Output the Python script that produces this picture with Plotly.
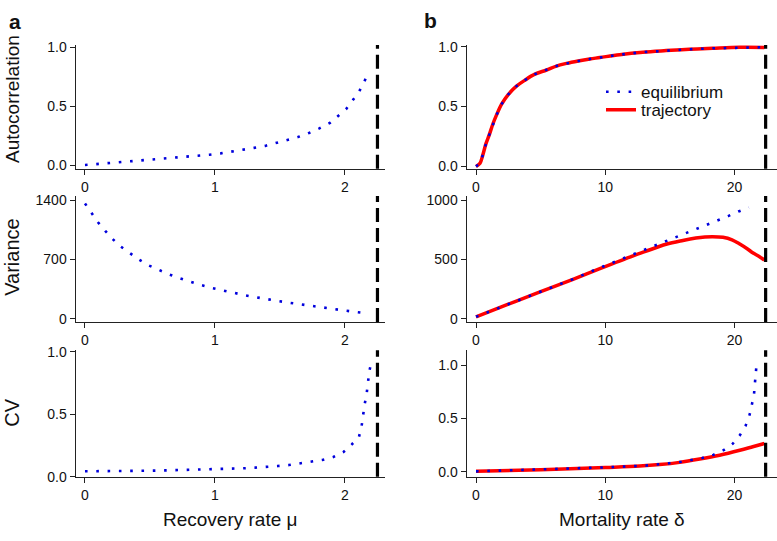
import plotly.graph_objects as go
from plotly.subplots import make_subplots

# ---- panel a : recovery rate mu ----
MU_CRIT = 2.25

a_acf_x = [0, 0.09, 0.18, 0.265, 0.355, 0.44, 0.526, 0.612, 0.70, 0.787, 0.874, 0.958, 1.044, 1.13,
           1.215, 1.3, 1.387, 1.47, 1.556, 1.638, 1.723, 1.803, 1.885, 1.944, 2.008, 2.059, 2.11, 2.149, 2.182]
a_acf_y = [0.0, 0.008, 0.014, 0.022, 0.03, 0.036, 0.047, 0.055, 0.064, 0.07, 0.078, 0.088, 0.099, 0.113,
           0.13, 0.146, 0.163, 0.188, 0.21, 0.238, 0.273, 0.312, 0.359, 0.414, 0.475, 0.55, 0.627, 0.71, 0.796]

a_var_x = [0, 0.05, 0.1, 0.156, 0.213, 0.272, 0.344, 0.415, 0.49, 0.569, 0.649, 0.73, 0.81, 0.897, 0.98,
           1.064, 1.149, 1.233, 1.318, 1.403, 1.49, 1.574, 1.66, 1.746, 1.83, 1.918, 2.003, 2.092, 2.18]
a_var_y = [1360, 1250, 1139, 1036, 940, 855, 775, 698, 629, 575, 522, 476, 433, 395, 361,
           330, 303, 276, 253, 228, 207, 188, 168, 148, 130, 112, 95, 78, 62]

a_cv_x = [0, 0.09, 0.179, 0.264, 0.354, 0.441, 0.526, 0.613, 0.7, 0.787, 0.874, 0.958, 1.049, 1.133,
          1.221, 1.308, 1.395, 1.482, 1.569, 1.654, 1.741, 1.826, 1.91, 1.987, 2.051, 2.108, 2.128,
          2.138, 2.151, 2.167, 2.174, 2.187, 2.205]
a_cv_y = [0.044, 0.044, 0.045, 0.046, 0.047, 0.048, 0.049, 0.051, 0.053, 0.055, 0.057, 0.06, 0.062, 0.065,
          0.068, 0.073, 0.078, 0.086, 0.094, 0.106, 0.12, 0.135, 0.158, 0.197, 0.257, 0.32, 0.405,
          0.494, 0.577, 0.665, 0.75, 0.842, 0.927]

# ---- panel b : mortality rate delta ----
DELTA_CRIT = 22.4

b_acf_x = [0, 0.31, 0.51, 0.77, 1.03, 1.29, 1.59, 1.98, 2.49, 3.13, 3.78, 4.55, 5.45, 6.22, 7.0, 7.9,
           8.8, 9.58, 11.1, 12.9, 14.7, 16.5, 18.3, 20.4, 22.2]
b_acf_eq = [0, 0.027, 0.089, 0.19, 0.265, 0.35, 0.43, 0.52, 0.60, 0.67, 0.72, 0.77, 0.805, 0.838, 0.86,
            0.88, 0.897, 0.909, 0.933, 0.954, 0.967, 0.978, 0.986, 0.994, 0.995]
b_acf_tr_x = b_acf_x[:-1] + [22.3]
b_acf_tr = b_acf_eq[:-1] + [0.993]

b_var_eq_x = [0, 2.5, 5, 7.5, 9.78, 10.6, 11.43, 12.2, 13.05, 13.85, 14.65, 15.47, 16.27, 17.07,
              17.86, 18.7, 19.5, 20.3, 21.1]
b_var_eq = [16, 122, 228, 334, 438, 474, 509, 542, 581, 616, 655, 688, 723, 758, 794, 830, 865, 904, 937]
b_var_tr_x = [0, 2.5, 5, 7.5, 9.58, 12.15, 13.05, 14.7, 16.0, 17.0, 17.7, 18.3, 19.1, 19.8, 20.4, 21.0,
              21.4, 21.9, 22.3]
b_var_tr = [16, 122, 228, 332, 422, 530, 565, 628, 660, 680, 689, 692, 686, 665, 630, 588, 556, 525, 495]

b_cv_eq_x = [0, 5, 10, 13.18, 14.08, 14.93, 15.8, 16.66, 17.5, 18.35, 19.18, 19.85, 20.4, 20.85, 21.16,
             21.34, 21.5, 21.57, 21.65, 21.72]
b_cv_eq = [0.006, 0.022, 0.043, 0.06, 0.069, 0.082, 0.094, 0.109, 0.13, 0.16, 0.206, 0.264, 0.342, 0.433,
           0.536, 0.633, 0.727, 0.83, 0.933, 1.036]
b_cv_tr_x = [0, 5, 10, 12.66, 14.2, 15.75, 17.3, 18.84, 20.4, 21.4, 22.3]
b_cv_tr = [0.006, 0.022, 0.042, 0.055, 0.069, 0.09, 0.121, 0.157, 0.203, 0.236, 0.266]

# ---- styles ----
FONT = "Liberation Sans, Arial, Helvetica, sans-serif"
BLUE = "#0000dd"
RED = "#ff0000"
dot_line = dict(color=BLUE, width=2.6, dash="2.6px,8.7px")
red_line = dict(color=RED, width=3.5)
crit_line = dict(color="black", width=3.2, dash="14px,6px")

W, H = 777, 541
fig = make_subplots(rows=3, cols=2)

# red trajectory under the blue dots
fig.add_trace(go.Scatter(x=b_acf_tr_x, y=b_acf_tr, mode="lines", line=red_line, line_shape="spline",
                         showlegend=False), row=1, col=2)
fig.add_trace(go.Scatter(x=b_var_tr_x, y=b_var_tr, mode="lines", line=red_line, line_shape="spline",
                         showlegend=False), row=2, col=2)
fig.add_trace(go.Scatter(x=b_cv_tr_x, y=b_cv_tr, mode="lines", line=red_line, line_shape="spline",
                         showlegend=False), row=3, col=2)

fig.add_trace(go.Scatter(x=a_acf_x, y=a_acf_y, mode="lines", line=dot_line, showlegend=False), row=1, col=1)
fig.add_trace(go.Scatter(x=a_var_x, y=a_var_y, mode="lines", line=dot_line, showlegend=False), row=2, col=1)
fig.add_trace(go.Scatter(x=a_cv_x, y=a_cv_y, mode="lines", line=dot_line, showlegend=False), row=3, col=1)
fig.add_trace(go.Scatter(x=b_acf_x, y=b_acf_eq, mode="lines", line=dot_line, showlegend=False), row=1, col=2)
fig.add_trace(go.Scatter(x=b_var_eq_x, y=b_var_eq, mode="lines", line=dot_line, showlegend=False), row=2, col=2)
fig.add_trace(go.Scatter(x=b_cv_eq_x, y=b_cv_eq, mode="lines", line=dot_line, showlegend=False), row=3, col=2)

# legend entries (two legends to get the tight line spacing)
fig.add_trace(go.Scatter(x=[None], y=[None], mode="lines", line=dot_line, name="equilibrium",
                         legend="legend"), row=1, col=2)
fig.add_trace(go.Scatter(x=[None], y=[None], mode="lines", line=red_line, name="trajectory",
                         legend="legend2"), row=1, col=2)

for r in (1, 2, 3):
    fig.add_vline(x=MU_CRIT, line=crit_line, row=r, col=1)
    fig.add_vline(x=DELTA_CRIT, line=crit_line, row=r, col=2)

# plot areas in pixels (left, right) and (top, bottom)
col_px = {1: (75.7, 385), 2: (466.7, 776.5)}
row_px = {1: (40, 167), 2: (195, 324.3), 3: (353.3, 483.3)}
x_ranges = {1: [-0.0715, 2.308], 2: [-0.72, 23.24]}
x_ticks = {1: [0, 1, 2], 2: [0, 10, 20]}
y_ranges = {(1, 1): [-0.031, 1.022], (2, 1): [-38, 1449], (3, 1): [0, 1.013],
            (1, 2): [-0.019, 1.014], (2, 2): [-27, 1035], (3, 2): [-0.045, 1.14]}
y_ticks = {(1, 1): ([0, 0.5, 1], ".1f"), (2, 1): ([0, 700, 1400], "d"), (3, 1): ([0, 0.5, 1], ".1f"),
           (1, 2): ([0, 0.5, 1], ".1f"), (2, 2): ([0, 500, 1000], "d"), (3, 2): ([0, 0.5, 1], ".1f")}

axis_style = dict(showline=True, linecolor="#222", linewidth=1.4, ticks="outside", ticklen=5,
                  tickwidth=1, tickcolor="#222", showgrid=False, zeroline=False, mirror=False,
                  tickfont=dict(size=14, color="#111", family=FONT))

for r in (1, 2, 3):
    for c in (1, 2):
        x0, x1 = col_px[c]
        t, b = row_px[r]
        fig.update_xaxes(domain=[x0 / W, x1 / W], range=x_ranges[c], tickvals=x_ticks[c],
                         **axis_style, row=r, col=c)
        tv, fmt = y_ticks[(r, c)]
        fig.update_yaxes(domain=[1 - b / H, 1 - t / H], range=y_ranges[(r, c)], tickvals=tv,
                         tickformat=fmt, **axis_style, row=r, col=c)

# labels
ann = [
    dict(text="<b>a</b>", x=15 / W, y=1 - 16 / H, font=dict(size=21)),
    dict(text="<b>b</b>", x=430 / W, y=1 - 15 / H, font=dict(size=21)),
    dict(text="Autocorrelation", x=12.5 / W, y=1 - 96 / H, textangle=-90, font=dict(size=19)),
    dict(text="Variance", x=12.5 / W, y=1 - 258 / H, textangle=-90, font=dict(size=20)),
    dict(text="CV", x=12.5 / W, y=1 - 418 / H, textangle=-90, font=dict(size=20)),
    dict(text="Recovery rate \u03bc", x=230 / W, y=1 - 527 / H, font=dict(size=19)),
    dict(text="Mortality rate \u03b4", x=621.7 / W, y=1 - 527 / H, font=dict(size=19)),
]
for a in ann:
    a["font"].update(family=FONT, color="#111")
    fig.add_annotation(xref="paper", yref="paper", showarrow=False, xanchor="center", yanchor="middle", **a)

leg = dict(xanchor="left", yanchor="middle", bgcolor="rgba(0,0,0,0)", borderwidth=0,
           font=dict(size=17, family=FONT, color="#111"), itemwidth=30)
fig.update_layout(
    width=W, height=H, margin=dict(l=0, r=0, t=0, b=0),
    paper_bgcolor="white", plot_bgcolor="white",
    font=dict(family=FONT, color="#111"),
    legend=dict(x=601 / W, y=1 - 88.5 / H, **leg),
    legend2=dict(x=601 / W, y=1 - 107 / H, **leg),
)

# page margin off so the 777x541 figure fills the window exactly
fig.write_html("out.html", config={"displayModeBar": False},
               post_script="document.body.style.margin='0';document.body.style.overflow='hidden';")
